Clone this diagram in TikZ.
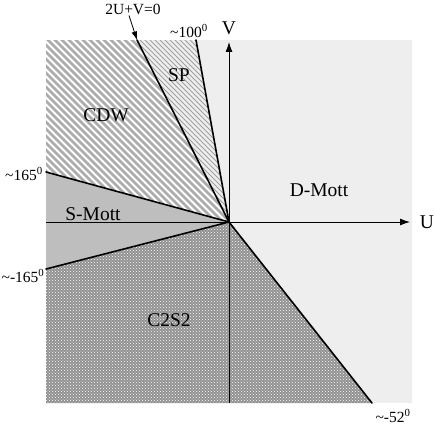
\documentclass[tikz,border=0pt]{standalone}
\usepackage{fontspec}
\setmainfont{Liberation Serif}
\usepackage{tikz}
\usetikzlibrary{arrows.meta,patterns}
\definecolor{dmott}{RGB}{238,238,238}
\definecolor{smott}{RGB}{190,190,190}
\definecolor{hatchgray}{RGB}{172,172,172}
\definecolor{sphatch}{RGB}{160,160,160}
\definecolor{c2s2gray}{RGB}{145,145,145}
\tikzset{
  phase/.style={font=\fontsize{19.5}{22}\selectfont,inner sep=1pt},
  angle/.style={font=\fontsize{15.5}{18}\selectfont,inner sep=1pt},
  axis/.style={-{Latex[length=3.5mm,width=2.4mm]},line width=0.8pt},
  boundary/.style={line width=1.6pt,line cap=round},
  pointer/.style={-{Latex[length=3mm,width=2mm]},line width=0.8pt},
  cdwhatch/.style={hatchgray,line width=2.5pt},
  sphatchline/.style={sphatch,line width=0.9pt}
}
\begin{document}
\begin{tikzpicture}[x=1pt,y=-1pt]
\useasboundingbox (0,0) rectangle (436,426);
\coordinate (O) at (229,222);
\coordinate (nw) at (46,40);
\coordinate (se) at (412,403);
\coordinate (cdwtop) at (137,40);
\coordinate (sptop) at (196,40);
\coordinate (upleft) at (46,172);
\coordinate (lowleft) at (46,269);
\coordinate (sw) at (46,403);
\coordinate (bottom) at (372,403);
\fill[dmott] (nw) rectangle (se);
\begin{scope}
\clip (O) -- (upleft) -- (nw) -- (cdwtop) -- cycle;
\fill[white] (nw) rectangle (O);
\foreach \c in {-300,-293,...,240}
  \draw[cdwhatch] (\c,0) -- ++(420,420);
\end{scope}
\begin{scope}
\clip (O) -- (cdwtop) -- (sptop) -- cycle;
\foreach \c in {-100,-95,...,240}
  \draw[sphatchline] (\c,0) -- ++(420,420);
\end{scope}
\fill[smott] (O) -- (upleft) -- (lowleft) -- cycle;
\fill[c2s2gray] (O) -- (lowleft) -- (sw) -- (bottom) -- cycle;
\fill[pattern=crosshatch dots,pattern color=white] (O) -- (lowleft) -- (sw) -- (bottom) -- cycle;
\coordinate (uleft) at (46,222);
\coordinate (uright) at (410,222);
\coordinate (vlow) at (229,403);
\coordinate (vtop) at (229,42);
\draw[axis] (uleft) -- (uright);
\draw[axis] (vlow) -- (vtop);
\draw[boundary] (O) -- (cdwtop);
\draw[boundary] (O) -- (sptop);
\draw[boundary] (O) -- (upleft);
\draw[boundary] (O) -- (lowleft);
\draw[boundary] (O) -- (bottom);
\node[phase] (U) at (427,222) {U};
\node[phase] (V) at (229,28) {V};
\node[phase] (cdw) at (106,115) {CDW};
\node[phase] (sp) at (179,75) {SP};
\node[phase] (smott) at (93,214) {S-Mott};
\node[phase] (dmott) at (319,190) {D-Mott};
\node[phase] (c2s2) at (169,320) {C2S2};
\node[angle] (line) at (133,9) {2U+V=0};
\node[angle] (a100) at (189,31) {\textasciitilde100\textsuperscript{0}};
\node[angle] (a165) at (24,174) {\textasciitilde165\textsuperscript{0}};
\node[angle] (am165) at (23,276) {\textasciitilde-165\textsuperscript{0}};
\node[angle] (am52) at (393,416) {\textasciitilde-52\textsuperscript{0}};
\draw[pointer] ([xshift=-4pt]line.south) -- (cdwtop);
\end{tikzpicture}
\end{document}
